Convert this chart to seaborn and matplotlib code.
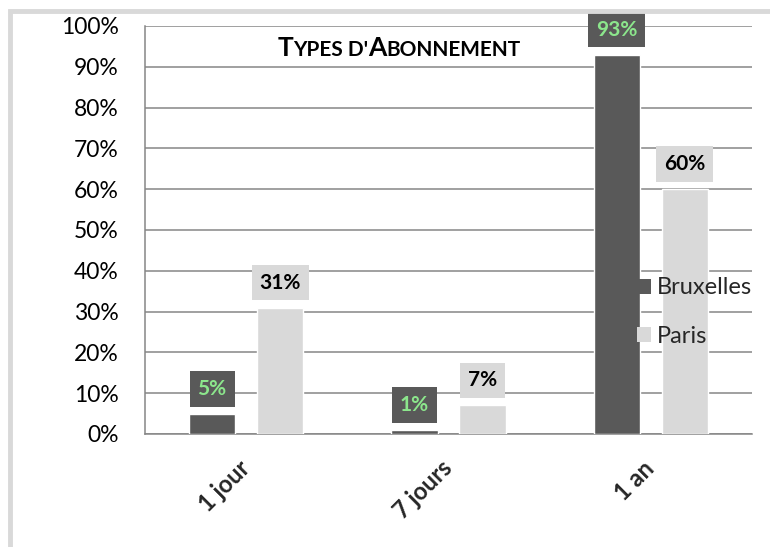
import matplotlib
matplotlib.use("Agg")
import matplotlib.pyplot as plt
from matplotlib.patches import Patch, Rectangle
from matplotlib.offsetbox import TextArea, HPacker, AnnotationBbox
import seaborn as sns
import pandas as pd

# Subscription types and share of each city (%)
categories = ["1 jour", "7 jours", "1 an"]
bruxelles = [5, 1, 93]
paris = [31, 7, 60]
cities = ["Bruxelles", "Paris"]
colors = {"Bruxelles": "#595959", "Paris": "#D9D9D9"}
label_colors = {"Bruxelles": "#8CE68C", "Paris": "#000000"}
y_ticks = [0, 10, 20, 30, 40, 50, 60, 70, 80, 90, 100]

df = pd.DataFrame({
    "type": categories * 2,
    "ville": ["Bruxelles"] * 3 + ["Paris"] * 3,
    "part": [v / 100 for v in bruxelles + paris],
})

sns.set_theme(style="white")
plt.rcParams["font.family"] = ["Lato", "DejaVu Sans"]

W, H = 770, 547
fig = plt.figure(figsize=(W / 100, H / 100), dpi=100)
fig.patch.set_facecolor("white")

# light grey chart frame (top and left edges visible)
fig.patches.append(Rectangle((9.5 / W, -0.1), 1.2, 1 - 10.5 / H + 0.1,
                             transform=fig.transFigure, fill=False,
                             ec="#D9D9D9", lw=3.5, zorder=0))

ax = fig.add_axes([145 / W, 1 - 434 / H, (752 - 145) / W, (434 - 26) / H])

sns.barplot(data=df, x="type", y="part", hue="ville", order=categories,
            hue_order=cities, palette=colors, width=0.673, gap=0.32,
            saturation=1, ax=ax, legend=False, zorder=3)

ax.set_ylim(0, 1)
ax.set_xlim(-0.5, 2.5)
ax.set_yticks([t / 100 for t in y_ticks])
ax.set_yticklabels([f"{t}%" for t in y_ticks], fontsize=16.5)
ax.yaxis.grid(True, color="#868686", lw=1.1)
ax.set_axisbelow(True)
ax.tick_params(axis="y", length=0, pad=19, colors="black")

ax.set_xticks(range(len(categories)))
ax.set_xticklabels(categories, rotation=45, ha="right", va="center",
                   rotation_mode="anchor", fontsize=17, fontweight="bold")
ax.tick_params(axis="x", which="major", length=0, pad=22)
ax.set_xticks([-0.5, 0.5, 1.5, 2.5], minor=True)
ax.tick_params(axis="x", which="minor", length=7, width=1.1, color="#868686")
ax.set_xlabel("")
ax.set_ylabel("")

for side in ["top", "right"]:
    ax.spines[side].set_visible(False)
for side in ["left", "bottom"]:
    ax.spines[side].set_color("#868686")
    ax.spines[side].set_linewidth(1.1)

# value labels in boxes above each bar
for city, container in zip(cities, ax.containers):
    for bar in container:
        v = bar.get_height()
        ax.annotate(f"{v * 100:.0f}%", (bar.get_x() + bar.get_width() / 2, v),
                    xytext=(0, 18), textcoords="offset points",
                    ha="center", va="center", fontsize=15,
                    fontweight="bold", color=label_colors[city],
                    bbox=dict(boxstyle="square,pad=0.38", fc=colors[city],
                              ec="none"), zorder=5)

# legend
handles = [Patch(fc=colors[c], ec="none", label=c) for c in cities]
ax.legend(handles=handles, loc="center left", bbox_to_anchor=(0.8105, 0.299),
          frameon=False, fontsize=17, handlelength=0.6, handleheight=0.6,
          handletextpad=0.25, labelspacing=1.15, borderpad=0, borderaxespad=0)

# title in small capitals
parts = [("T", 19), ("YPES D'", 15), ("A", 19), ("BONNEMENT", 15)]
areas = [TextArea(t, textprops=dict(fontsize=s, fontweight="bold",
                                    color="black", family=["Lato", "DejaVu Sans"]))
         for t, s in parts]
title = HPacker(children=areas, align="baseline", pad=0, sep=0)
fig.add_artist(AnnotationBbox(title, (399 / W, 1 - 48 / H),
                              xycoords="figure fraction", frameon=False,
                              box_alignment=(0.5, 0.5)))

fig.savefig("out.png", dpi=100)
